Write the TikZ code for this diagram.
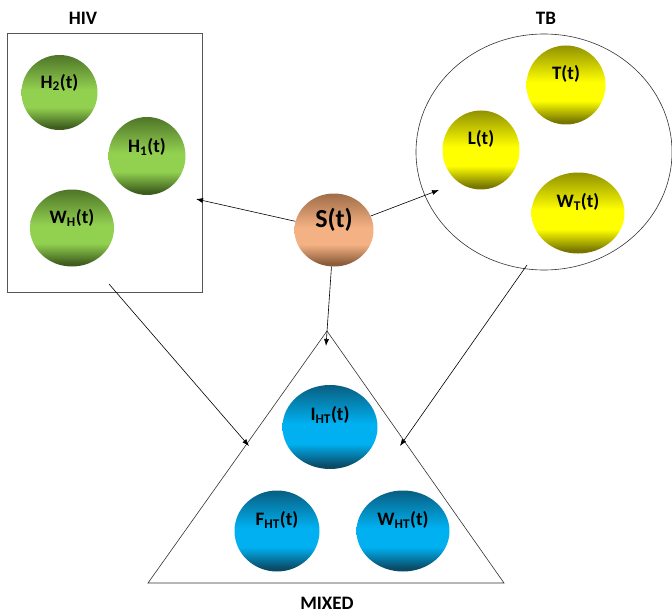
\documentclass[tikz,border=0pt]{standalone}
\usepackage{fontspec}
\setmainfont{Carlito}
\usetikzlibrary{shapes.geometric,arrows.meta}
\definecolor{gD}{HTML}{3E5E1E}
\definecolor{gL}{HTML}{92D050}
\definecolor{yD}{HTML}{767600}
\definecolor{yL}{HTML}{FFFF00}
\definecolor{bD}{HTML}{0A4A66}
\definecolor{bL}{HTML}{00B0F0}
\definecolor{sD}{HTML}{8A5C3A}
\definecolor{sL}{HTML}{F4B183}
\definecolor{boxgray}{HTML}{555555}
\colorlet{gM}{gD!80!gL}
\colorlet{yM}{yD!80!yL}
\colorlet{bM}{bD!80!bL}
\colorlet{sM}{sD!80!sL}
\pgfdeclareverticalshading{ballgreen}{100bp}{color(0bp)=(gD); color(27bp)=(gD); color(40bp)=(gL); color(52bp)=(gL); color(75bp)=(gM); color(100bp)=(gM)}
\pgfdeclareverticalshading{ballyellow}{100bp}{color(0bp)=(yD); color(27bp)=(yD); color(40bp)=(yL); color(52bp)=(yL); color(75bp)=(yM); color(100bp)=(yM)}
\pgfdeclareverticalshading{ballblue}{100bp}{color(0bp)=(bD); color(27bp)=(bD); color(40bp)=(bL); color(52bp)=(bL); color(75bp)=(bM); color(100bp)=(bM)}
\pgfdeclareverticalshading{ballpeach}{100bp}{color(0bp)=(sD); color(27bp)=(sD); color(40bp)=(sL); color(52bp)=(sL); color(75bp)=(sM); color(100bp)=(sM)}
\begin{document}
\begin{tikzpicture}[x=1pt,y=-1pt,
  ball/.style={ellipse, inner sep=0pt, draw=none},
  gball/.style={ball, shading=ballgreen},
  yball/.style={ball, shading=ballyellow},
  bball/.style={ball, shading=ballblue},
  pball/.style={ball, shading=ballpeach},
  lbl/.style={font=\fontsize{19}{21}\selectfont\bfseries, inner sep=0pt},
  title/.style={font=\fontsize{19}{21}\selectfont\bfseries, inner sep=0pt},
  conn/.style={line width=0.6pt, -{Latex[length=7pt,width=5pt]}},
  frame/.style={draw=boxgray, line width=0.6pt}
]
\useasboundingbox (0,0) rectangle (672,615);
\fill[white] (0,0) rectangle (672,615);

% titles
\node[title] (thiv) at (83,18) {HIV};
\node[title] (ttb) at (546,18) {TB};
\node[title] (tmix) at (327,603) {MIXED};

% containers
\node[frame, rectangle, minimum width=195pt, minimum height=259pt, inner sep=0pt] (hiv) at (104.5,162.5) {};
\node[ellipse, draw=black!80, line width=0.6pt, minimum width=256pt, minimum height=236pt, inner sep=0pt] (tb) at (544,152) {};
\coordinate (mixtop) at (327,331);
\coordinate (mixbl) at (148,583);
\coordinate (mixbr) at (504,583);
\draw[frame, draw=black!80] (mixtop) -- (mixbl) -- (mixbr) -- cycle;

% HIV balls
\node[gball, minimum width=76pt, minimum height=75pt] (H2) at (59.5,92.5) {};
\node[gball, minimum width=77pt, minimum height=78pt] (H1) at (147,156) {};
\node[gball, minimum width=84pt, minimum height=77pt] (WH) at (72,228) {};
\node[lbl] (H2t) at ([yshift=10pt]H2.center) {H\textsubscript{2}(t)};
\node[lbl] (H1t) at ([yshift=9pt]H1.center) {H\textsubscript{1}(t)};
\node[lbl] (WHt) at ([yshift=10pt]WH.center) {W\textsubscript{H}(t)};

% TB balls
\node[yball, minimum width=79pt, minimum height=79pt] (T) at (566,85) {};
\node[yball, minimum width=77pt, minimum height=79pt] (L) at (481,150) {};
\node[yball, minimum width=93pt, minimum height=81pt] (WT) at (578,213) {};
\node[lbl] (Tt) at ([yshift=11pt]T.center) {T(t)};
\node[lbl] (Lt) at ([yshift=11pt]L.center) {L(t)};
\node[lbl] (WTt) at ([yshift=11pt]WT.center) {W\textsubscript{T}(t)};

% S ball
\node[pball, minimum width=79pt, minimum height=73pt] (S) at (334,230) {};
\node[font=\fontsize{26}{28}\selectfont\bfseries, inner sep=0pt] (St) at ([yshift=10pt]S.center) {S(t)};

% Mixed balls
\node[bball, minimum width=95pt, minimum height=84pt] (IHT) at (330,427) {};
\node[bball, minimum width=85pt, minimum height=81pt] (FHT) at (277,531) {};
\node[bball, minimum width=93pt, minimum height=81pt] (WHT) at (403,531) {};
\node[lbl] (IHTt) at ([yshift=12pt]IHT.center) {I\textsubscript{HT}(t)};
\node[lbl] (FHTt) at ([yshift=11pt]FHT.center) {F\textsubscript{HT}(t)};
\node[lbl] (WHTt) at ([yshift=11pt]WHT.center) {W\textsubscript{HT}(t)};

% connector ends
\coordinate (toHIV) at (196,199);
\coordinate (toTB) at (439,190);
\coordinate (toMIX) at (326,346);
\coordinate (fromHIV) at (109,284);
\coordinate (hivMIX) at (249,446);
\coordinate (fromTB) at (527,265);
\coordinate (tbMIX) at (400,446);

\draw[conn] (S) -- (toHIV);
\draw[conn] (S) -- (toTB);
\draw[conn] (S) -- (toMIX);
\draw[conn] (fromHIV) -- (hivMIX);
\draw[conn] (fromTB) -- (tbMIX);
\end{tikzpicture}
\end{document}
